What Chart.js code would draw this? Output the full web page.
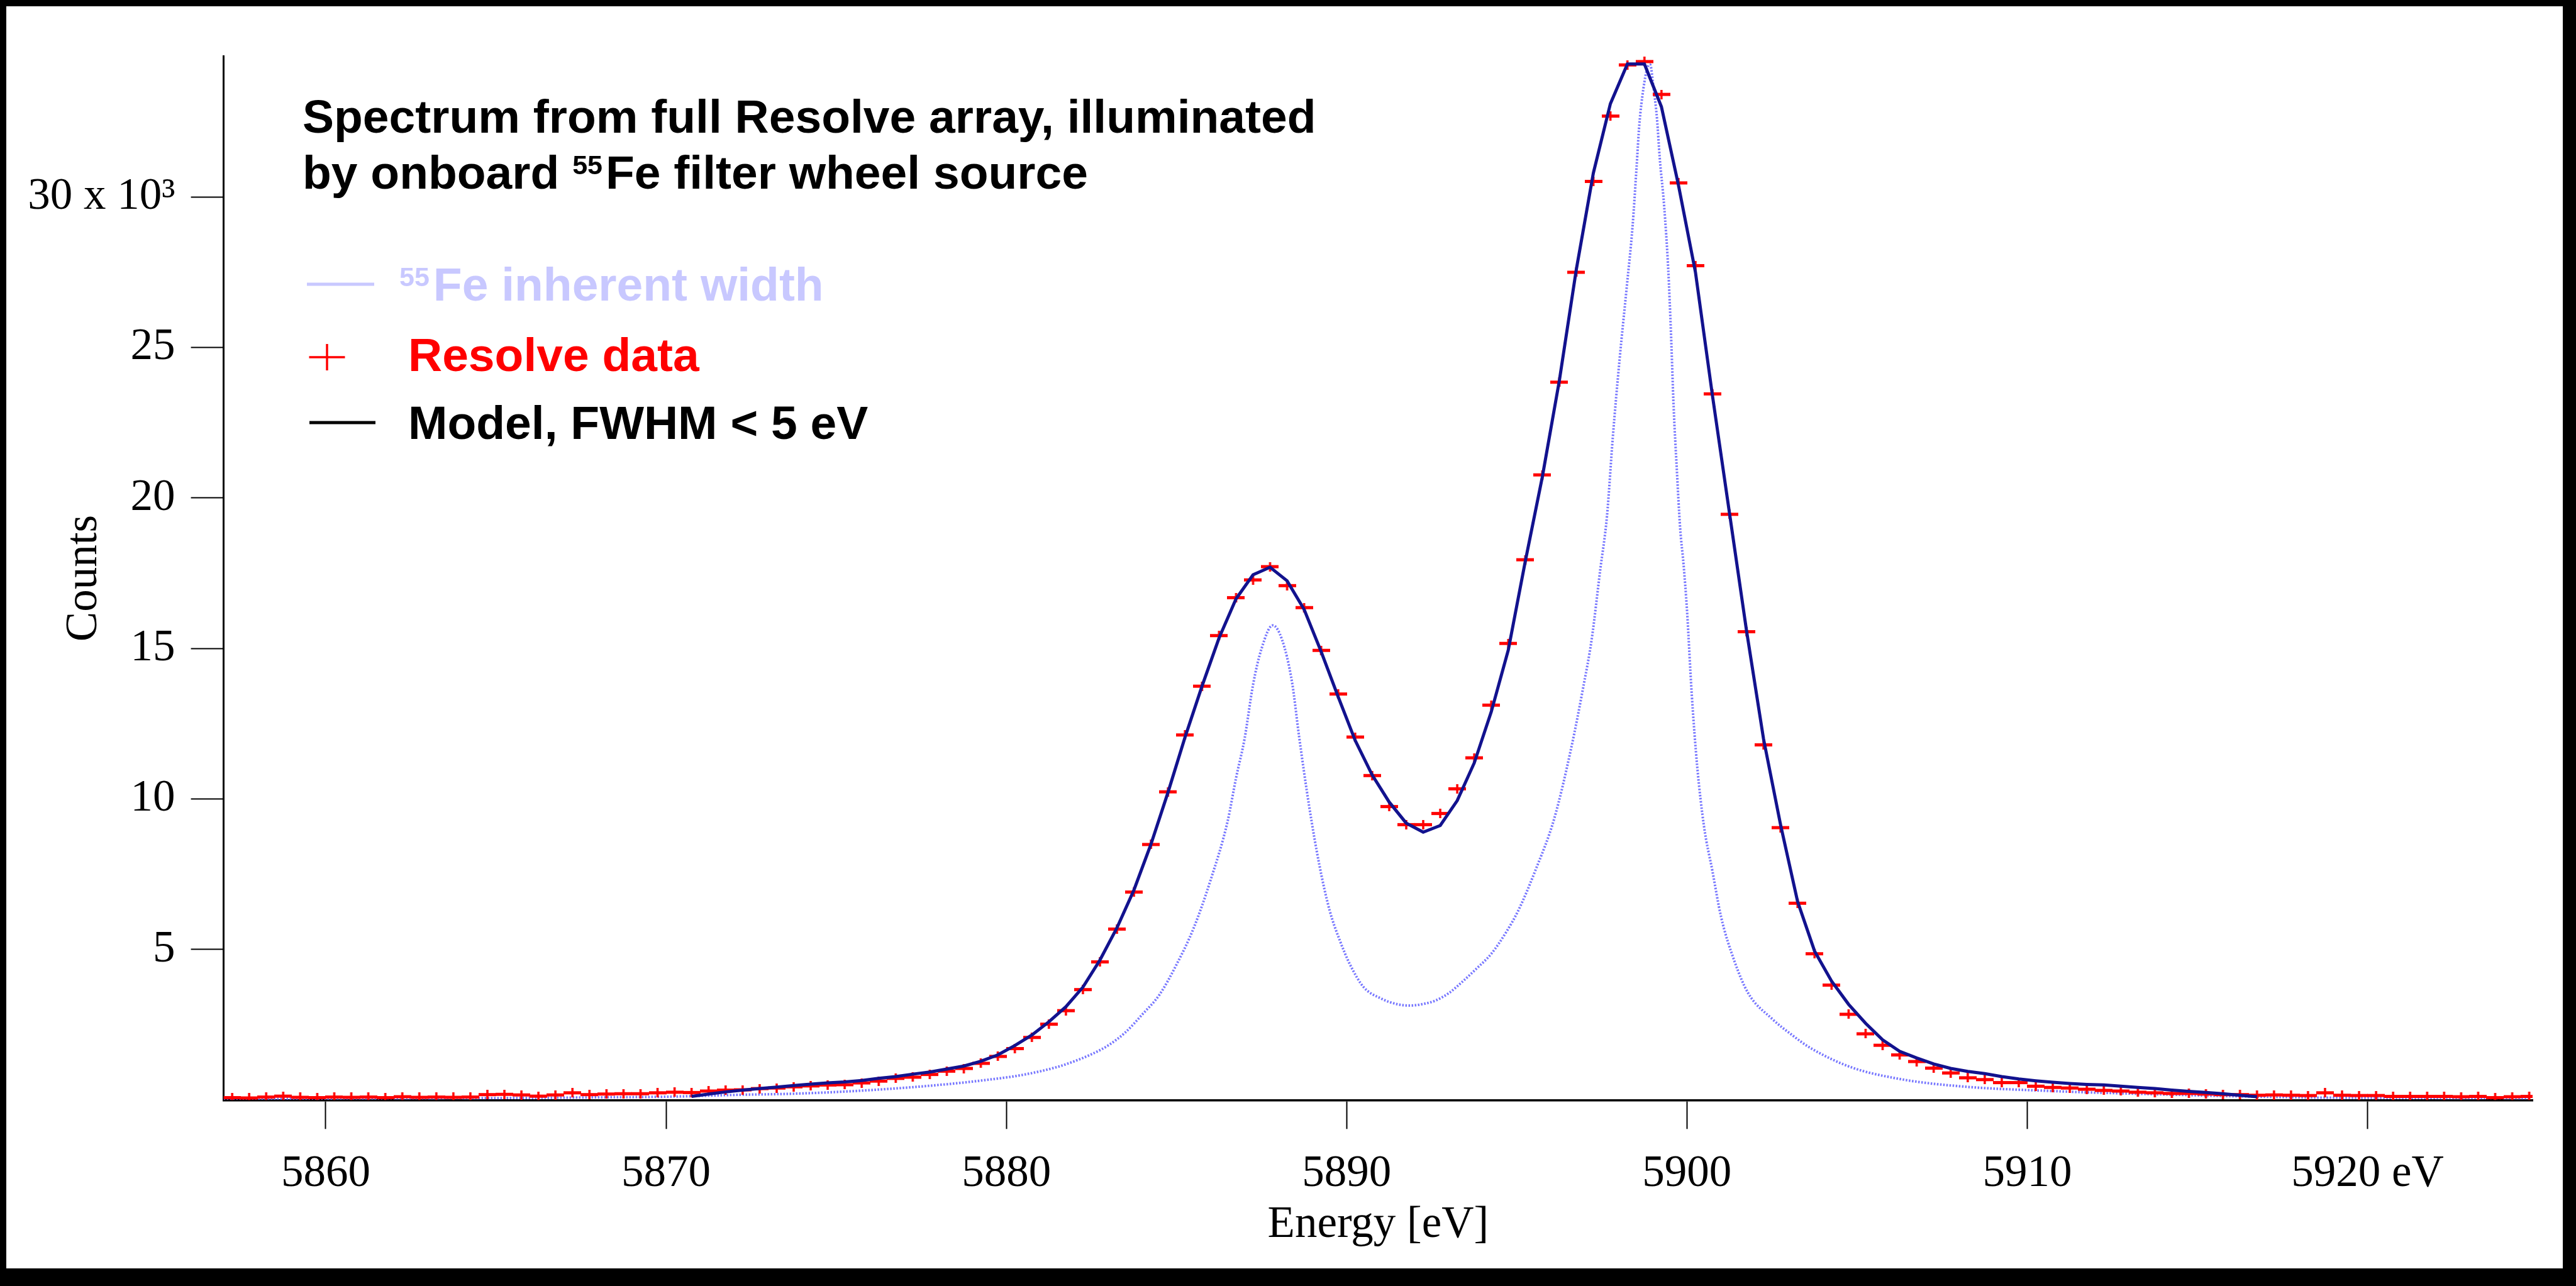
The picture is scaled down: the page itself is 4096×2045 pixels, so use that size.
<!DOCTYPE html>
<html>
<head>
<meta charset="utf-8">
<title>Resolve 55Fe spectrum</title>
<script src="https://cdn.jsdelivr.net/npm/chart.js@4.4.1/dist/chart.umd.min.js"></script>
<style>
html, body { margin: 0; padding: 0; background: #000; overflow: hidden; }
#chart-area { display: block; }
</style>
</head>
<body>
<canvas id="chart-area" width="4096" height="2045"></canvas>
<script>
// counts are in units of 10^3
var dataEnergy = [
    5857.25, 5857.75, 5858.25, 5858.75, 5859.25, 5859.75, 5860.25, 5860.75, 5861.25, 5861.75,
    5862.25, 5862.75, 5863.25, 5863.75, 5864.25, 5864.75, 5865.25, 5865.75, 5866.25, 5866.75,
    5867.25, 5867.75, 5868.25, 5868.75, 5869.25, 5869.75, 5870.25, 5870.75, 5871.25, 5871.75,
    5872.25, 5872.75, 5873.25, 5873.75, 5874.25, 5874.75, 5875.25, 5875.75, 5876.25, 5876.75,
    5877.25, 5877.75, 5878.25, 5878.75, 5879.25, 5879.75, 5880.25, 5880.75, 5881.25, 5881.75,
    5882.25, 5882.75, 5883.25, 5883.75, 5884.25, 5884.75, 5885.25, 5885.75, 5886.25, 5886.75,
    5887.25, 5887.75, 5888.25, 5888.75, 5889.25, 5889.75, 5890.25, 5890.75, 5891.25, 5891.75,
    5892.25, 5892.75, 5893.25, 5893.75, 5894.25, 5894.75, 5895.25, 5895.75, 5896.25, 5896.75,
    5897.25, 5897.75, 5898.25, 5898.75, 5899.25, 5899.75, 5900.25, 5900.75, 5901.25, 5901.75,
    5902.25, 5902.75, 5903.25, 5903.75, 5904.25, 5904.75, 5905.25, 5905.75, 5906.25, 5906.75,
    5907.25, 5907.75, 5908.25, 5908.75, 5909.25, 5909.75, 5910.25, 5910.75, 5911.25, 5911.75,
    5912.25, 5912.75, 5913.25, 5913.75, 5914.25, 5914.75, 5915.25, 5915.75, 5916.25, 5916.75,
    5917.25, 5917.75, 5918.25, 5918.75, 5919.25, 5919.75, 5920.25, 5920.75, 5921.25, 5921.75,
    5922.25, 5922.75, 5923.25, 5923.75, 5924.25, 5924.75
];
var dataCounts = [
    0.08, 0.07, 0.10, 0.13, 0.09, 0.08, 0.10, 0.09, 0.10, 0.08,
    0.11, 0.09, 0.10, 0.09, 0.10, 0.18, 0.19, 0.17, 0.13, 0.17,
    0.24, 0.18, 0.20, 0.21, 0.21, 0.24, 0.26, 0.25, 0.30, 0.33,
    0.34, 0.38, 0.40, 0.44, 0.47, 0.50, 0.51, 0.57, 0.63, 0.72,
    0.76, 0.85, 0.96, 1.05, 1.22, 1.45, 1.71, 2.08, 2.52, 2.97,
    3.67, 4.59, 5.68, 6.91, 8.49, 10.24, 12.13, 13.75, 15.43, 16.69,
    17.28, 17.72, 17.09, 16.36, 14.94, 13.49, 12.06, 10.78, 9.75, 9.15,
    9.15, 9.52, 10.34, 11.37, 13.12, 15.17, 17.95, 20.77, 23.85, 27.50,
    30.52, 32.69, 34.39, 34.50, 33.41, 30.47, 27.72, 23.46, 19.46, 15.56,
    11.80, 9.05, 6.54, 4.86, 3.82, 2.85, 2.20, 1.82, 1.50, 1.28,
    1.06, 0.90, 0.74, 0.68, 0.58, 0.58, 0.46, 0.42, 0.40, 0.36,
    0.32, 0.30, 0.26, 0.24, 0.22, 0.22, 0.20, 0.18, 0.18, 0.16,
    0.17, 0.16, 0.15, 0.24, 0.16, 0.15, 0.15, 0.12, 0.12, 0.12,
    0.12, 0.11, 0.12, 0.08, 0.11, 0.12
];

var modelEnergy = [
    5870.75, 5871.25, 5871.75, 5872.25, 5872.75, 5873.25, 5873.75, 5874.25, 5874.75, 5875.25,
    5875.75, 5876.25, 5876.75, 5877.25, 5877.75, 5878.25, 5878.75, 5879.25, 5879.75, 5880.25,
    5880.75, 5881.25, 5881.75, 5882.25, 5882.75, 5883.25, 5883.75, 5884.25, 5884.75, 5885.25,
    5885.75, 5886.25, 5886.75, 5887.25, 5887.75, 5888.25, 5888.75, 5889.25, 5889.75, 5890.25,
    5890.75, 5891.25, 5891.75, 5892.25, 5892.75, 5893.25, 5893.75, 5894.25, 5894.75, 5895.25,
    5895.75, 5896.25, 5896.75, 5897.25, 5897.75, 5898.25, 5898.75, 5899.25, 5899.75, 5900.25,
    5900.75, 5901.25, 5901.75, 5902.25, 5902.75, 5903.25, 5903.75, 5904.25, 5904.75, 5905.25,
    5905.75, 5906.25, 5906.75, 5907.25, 5907.75, 5908.25, 5908.75, 5909.25, 5909.75, 5910.25,
    5910.75, 5911.25, 5911.75, 5912.25, 5912.75, 5913.25, 5913.75, 5914.25, 5914.75, 5915.25,
    5915.75, 5916.25, 5916.75
];
var modelCounts = [
    0.12, 0.20, 0.27, 0.33, 0.38, 0.43, 0.48, 0.53, 0.57, 0.60,
    0.65, 0.72, 0.78, 0.86, 0.93, 1.03, 1.13, 1.29, 1.50, 1.81,
    2.16, 2.60, 3.10, 3.75, 4.65, 5.72, 6.98, 8.50, 10.22, 12.05,
    13.75, 15.35, 16.65, 17.45, 17.70, 17.25, 16.30, 14.90, 13.40, 11.95,
    10.80, 9.90, 9.20, 8.90, 9.12, 9.95, 11.20, 12.90, 14.95, 17.90,
    20.70, 23.90, 27.60, 30.80, 33.10, 34.42, 34.42, 33.00, 30.40, 27.50,
    23.40, 19.50, 15.60, 12.00, 9.15, 6.60, 4.95, 3.95, 3.18, 2.55,
    2.00, 1.62, 1.40, 1.20, 1.05, 0.95, 0.88, 0.78, 0.70, 0.64,
    0.59, 0.55, 0.52, 0.50, 0.46, 0.42, 0.38, 0.33, 0.29, 0.25,
    0.21, 0.16, 0.11
];

var inherentEnergy = [
    5857.0, 5860, 5863, 5866, 5868, 5870, 5872, 5874, 5876, 5878,
    5879.5, 5880.5, 5881.5, 5882.0, 5882.5, 5883.0, 5883.5, 5884.0, 5884.5, 5885.0,
    5885.5, 5886.0, 5886.5, 5886.75, 5887.0, 5887.25, 5887.5, 5887.83, 5888.1, 5888.4,
    5888.6, 5888.9, 5889.2, 5889.5, 5889.8, 5890.1, 5890.5, 5891.0, 5891.5, 5891.85,
    5892.2, 5892.6, 5893.0, 5893.4, 5893.8, 5894.25, 5894.7, 5895.05, 5895.55, 5896.1,
    5896.6, 5896.95, 5897.2, 5897.45, 5897.65, 5897.82, 5898.02, 5898.23, 5898.4, 5898.52,
    5898.6, 5898.72, 5898.84, 5898.92, 5899.0, 5899.12, 5899.2, 5899.33, 5899.45, 5899.53,
    5899.61, 5899.7, 5899.8, 5899.9, 5900.0, 5900.14, 5900.3, 5900.5, 5900.75, 5901.0,
    5901.4, 5901.8, 5902.5, 5903.1, 5903.6, 5904.8, 5906.25, 5908.0, 5910.7, 5914.2,
    5917.8, 5921.0, 5924.8
];
var inherentCounts = [
    0.04, 0.05, 0.06, 0.07, 0.09, 0.11, 0.17, 0.22, 0.33, 0.50,
    0.68, 0.84, 1.10, 1.29, 1.52, 1.82, 2.25, 2.85, 3.50, 4.50,
    5.70, 7.30, 9.25, 10.7, 12.0, 13.8, 15.0, 15.77, 15.3, 13.85,
    12.1, 9.75, 7.8, 6.3, 5.3, 4.5, 3.75, 3.38, 3.18, 3.14,
    3.18, 3.3, 3.55, 3.93, 4.35, 4.86, 5.6, 6.31, 7.64, 9.35,
    11.7, 13.7, 15.3, 17.6, 19.4, 22.0, 24.6, 27.0, 29.0, 31.0,
    32.4, 33.6, 34.3, 34.4, 33.8, 32.6, 31.3, 29.7, 27.6, 25.5,
    23.0, 21.0, 19.0, 17.8, 16.3, 13.5, 11.1, 9.1, 7.6, 6.1,
    4.6, 3.55, 2.7, 2.15, 1.75, 1.1, 0.70, 0.46, 0.30, 0.18,
    0.09, 0.07, 0.06
];

var xTickValues = [5860, 5870, 5880, 5890, 5900, 5910, 5920];
var xTickLabels = ["5860", "5870", "5880", "5890", "5900", "5910", "5920 eV"];
var yTickValues = [5, 10, 15, 20, 25, 30];
var yTickLabels = ["5", "10", "15", "20", "25", "30 x 10\u00b3"];

var serif = '"Liberation Serif", "Times New Roman", Times, serif';
var sans = '"Liberation Sans", Arial, Helvetica, sans-serif';

function toPoints(xs, ys) {
    var pts = [];
    for (var i = 0; i < xs.length; i++) {
        pts.push({x: xs[i], y: ys[i]});
    }
    return pts;
}

// red "+" : bin width horizontally, short error bar vertically
function makeBinMarker() {
    var c = document.createElement('canvas');
    c.width = 28;
    c.height = 15;
    var g = c.getContext('2d');
    g.fillStyle = '#ff0000';
    g.fillRect(0, 5, 28, 5);
    g.fillRect(12.25, 0, 3.5, 15);
    return c;
}

function drawRuns(ctx, x, y, runs, color) {
    ctx.fillStyle = color;
    ctx.textBaseline = 'alphabetic';
    ctx.textAlign = 'left';
    for (var i = 0; i < runs.length; i++) {
        var r = runs[i];
        ctx.font = 'bold ' + r.size + 'px ' + sans;
        ctx.fillText(r.text, x, y - (r.rise || 0));
        x += ctx.measureText(r.text).width + (r.gap || 0);
    }
}

function hLine(ctx, x1, x2, y, w, color) {
    ctx.strokeStyle = color;
    ctx.lineWidth = w;
    ctx.beginPath();
    ctx.moveTo(x1, y);
    ctx.lineTo(x2, y);
    ctx.stroke();
}

var framePlugin = {
    id: 'frame',
    beforeDraw: function(chart) {
        var ctx = chart.ctx;
        ctx.save();
        ctx.fillStyle = '#000';
        ctx.fillRect(0, 0, chart.width, chart.height);
        ctx.fillStyle = '#fff';
        ctx.fillRect(10, 10, 4065, 2007);
        ctx.restore();
    },
    afterDraw: function(chart) {
        var ctx = chart.ctx;
        ctx.save();
        /*---- title ----*/
        drawRuns(ctx, 481, 210.6, [{text: 'Spectrum from full Resolve array, illuminated', size: 75}], '#000');
        drawRuns(ctx, 481, 299.5, [
            {text: 'by onboard ', size: 75},
            {text: '55', size: 43, rise: 23, gap: 5},
            {text: 'Fe filter wheel source', size: 75}
        ], '#000');

        /*---- legend ----*/
        hLine(ctx, 488, 595, 452, 5, '#c8c8ff');
        drawRuns(ctx, 635, 478, [
            {text: '55', size: 43, rise: 23, gap: 6},
            {text: 'Fe inherent width', size: 75}
        ], '#c8c8ff');

        ctx.fillStyle = '#ff0000';
        ctx.fillRect(491.5, 566.25, 57, 3.5);
        ctx.fillRect(518.25, 547, 3.5, 42);
        drawRuns(ctx, 649, 589.5, [{text: 'Resolve data', size: 75}], '#ff0000');

        hLine(ctx, 492, 597, 672, 5, '#000');
        drawRuns(ctx, 649, 698, [{text: 'Model, FWHM < 5 eV', size: 75}], '#000');
        ctx.restore();
    }
};

var config = {
    type: 'scatter',
    data: {
        datasets: [{
            label: 'Model, FWHM < 5 eV',
            data: toPoints(modelEnergy, modelCounts),
            showLine: true,
            borderColor: '#12128e',
            borderWidth: 5,
            pointRadius: 0,
            tension: 0,
            order: 0
        }, {
            label: 'Resolve data',
            data: toPoints(dataEnergy, dataCounts),
            showLine: false,
            pointStyle: makeBinMarker(),
            pointRadius: 6,
            order: 1
        }, {
            label: '55Fe inherent width',
            data: toPoints(inherentEnergy, inherentCounts),
            showLine: true,
            borderColor: 'rgba(95,95,255,0.85)',
            borderWidth: 4,
            borderDash: [2.5, 2.5],
            cubicInterpolationMode: 'monotone',
            pointRadius: 0,
            order: 2
        }]
    },
    options: {
        responsive: false,
        animation: false,
        devicePixelRatio: 1,
        layout: {padding: {left: 0, top: 89.8, right: 69, bottom: 0}},
        plugins: {legend: {display: false}, tooltip: {enabled: false}, title: {display: false}},
        scales: {
            x: {
                type: 'linear',
                min: 5857.0,
                max: 5924.85,
                afterBuildTicks: function(scale) {
                    scale.ticks = xTickValues.map(function(v) { return {value: v}; });
                },
                afterFit: function(scale) { scale.height = 295.7; },
                border: {display: true, color: '#000', width: 3.5},
                grid: {display: true, drawOnChartArea: false, drawTicks: true, tickLength: 46, color: '#000', tickColor: '#000', tickWidth: 2},
                ticks: {
                    autoSkip: false, maxRotation: 0, minRotation: 0, padding: 29, color: '#000',
                    font: {family: serif, size: 71},
                    callback: function(value, index) { return xTickLabels[index]; }
                },
                title: {display: true, text: 'Energy [eV]', color: '#000', font: {family: serif, size: 71}, padding: {top: 0, bottom: 54}}
            },
            y: {
                type: 'linear',
                min: 0,
                max: 34.67,
                afterBuildTicks: function(scale) {
                    scale.ticks = yTickValues.map(function(v) { return {value: v}; });
                },
                afterFit: function(scale) { scale.width = 355.6; },
                border: {display: true, color: '#000', width: 3},
                grid: {display: true, drawOnChartArea: false, drawTicks: true, tickLength: 52, color: '#000', tickColor: '#000', tickWidth: 2},
                ticks: {
                    autoSkip: false, padding: 25, color: '#000',
                    font: {family: serif, size: 71},
                    callback: function(value, index) { return yTickLabels[index]; }
                },
                title: {display: true, text: 'Counts', color: '#000', font: {family: serif, size: 71}, padding: {top: 92, bottom: 0}}
            }
        }
    },
    plugins: [framePlugin]
};

window.onload = function() {
    var ctx = document.getElementById("chart-area");
    if (typeof ctx !== 'undefined' && ctx !== null) {
        ctx = ctx.getContext("2d");
        window.resolveChart = new Chart(ctx, config);
    }
};
</script>
</body>
</html>
